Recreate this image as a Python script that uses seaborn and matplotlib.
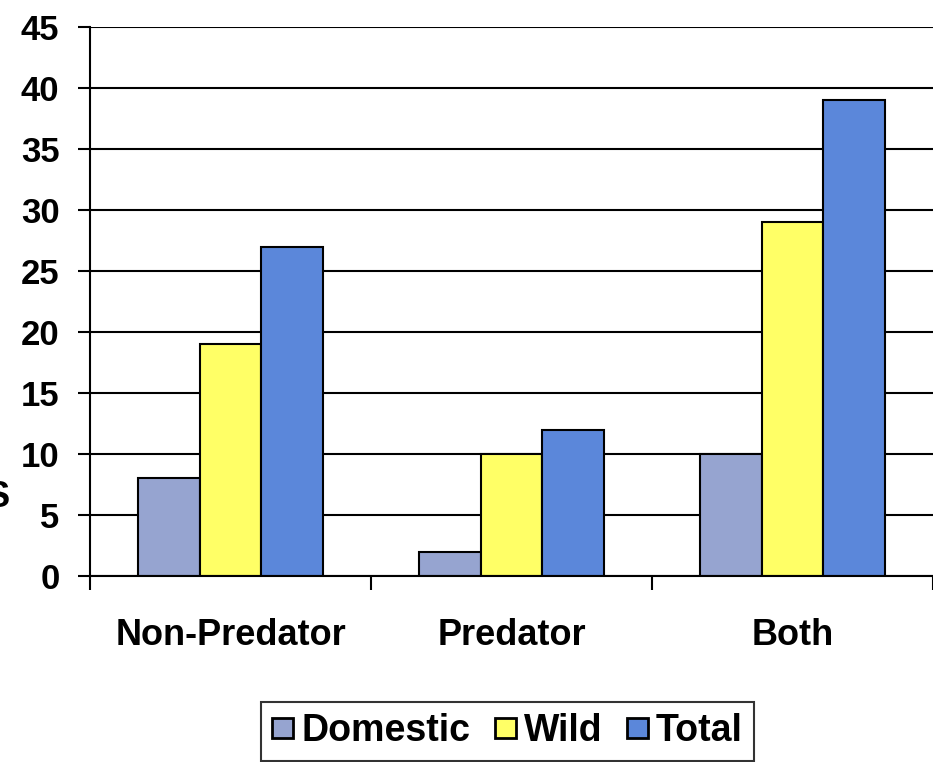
import pandas as pd
import seaborn as sns
import matplotlib.pyplot as plt
from matplotlib.ticker import FixedLocator

sns.set_style("white")
plt.rcParams['font.family'] = ['Liberation Sans', 'DejaVu Sans']
plt.rcParams['font.weight'] = 'bold'
plt.rcParams['text.color'] = 'black'
plt.rcParams['xtick.color'] = 'black'
plt.rcParams['ytick.color'] = 'black'

categories = ["Non-Predator", "Predator", "Both"]
series = ["Domestic", "Wild", "Total"]
domestic = [8, 2, 10]
wild = [19, 10, 29]
total = [27, 12, 39]
colors = ["#96A4D0", "#FFFF66", "#5B87DA"]

df = pd.DataFrame({
    "Category": categories * 3,
    "Type": [s for s in series for _ in categories],
    "Value": domestic + wild + total,
})

fs = 26

fig = plt.figure(figsize=(9.33, 7.62), dpi=100)
ax = fig.add_axes([0.0965, 0.2441, 0.9035, 0.7205])

sns.barplot(data=df, x="Category", y="Value", hue="Type", order=categories,
            hue_order=series, palette=colors, width=0.66, gap=0,
            edgecolor="black", linewidth=1.5, saturation=1, ax=ax)

ax.set_ylim(0, 45)
ax.set_xlim(-0.5, 2.5)
ax.set_yticks(range(0, 50, 5))
ax.yaxis.grid(True, color="black", linewidth=1.5)
ax.set_axisbelow(True)
ax.set_xlabel("")
ax.set_ylabel("")

for s in ["top", "right"]:
    ax.spines[s].set_visible(False)
for s in ["left", "bottom"]:
    ax.spines[s].set_color("black")
    ax.spines[s].set_linewidth(1.5)

ax.tick_params(axis="y", which="major", left=True, direction="out", length=9,
               width=1.5, color="black", pad=13, labelsize=25)
ax.tick_params(axis="x", which="major", bottom=True, length=0, pad=30,
               labelsize=fs)
ax.xaxis.set_minor_locator(FixedLocator([-0.5, 0.5, 1.5, 2.5]))
ax.tick_params(axis="x", which="minor", bottom=True, direction="out",
               length=10, width=1.5, color="black")
for lab in ax.get_xticklabels() + ax.get_yticklabels():
    lab.set_fontweight("bold")
    lab.set_color("black")

handles, labels = ax.get_legend_handles_labels()
ax.get_legend().remove()
leg = fig.legend(handles, labels, loc="upper center", bbox_to_anchor=(0.544, 0.0787),
                 ncol=3, frameon=True, fancybox=False, fontsize=27,
                 handlelength=0.56, handleheight=0.46, handletextpad=0.22,
                 columnspacing=0.65, borderpad=0.3, borderaxespad=0)
leg.get_frame().set_edgecolor("black")
leg.get_frame().set_linewidth(1.5)
for patch in leg.get_patches():
    patch.set_linewidth(2)
for t in leg.get_texts():
    t.set_fontweight("bold")
    t.set_color("black")

# clipped axis label at the left edge
fig.text(0.0107, 0.347, "S", ha="right", va="center",
         fontsize=fs, fontweight="bold", color="black")

fig.savefig("out.png", dpi=100)
